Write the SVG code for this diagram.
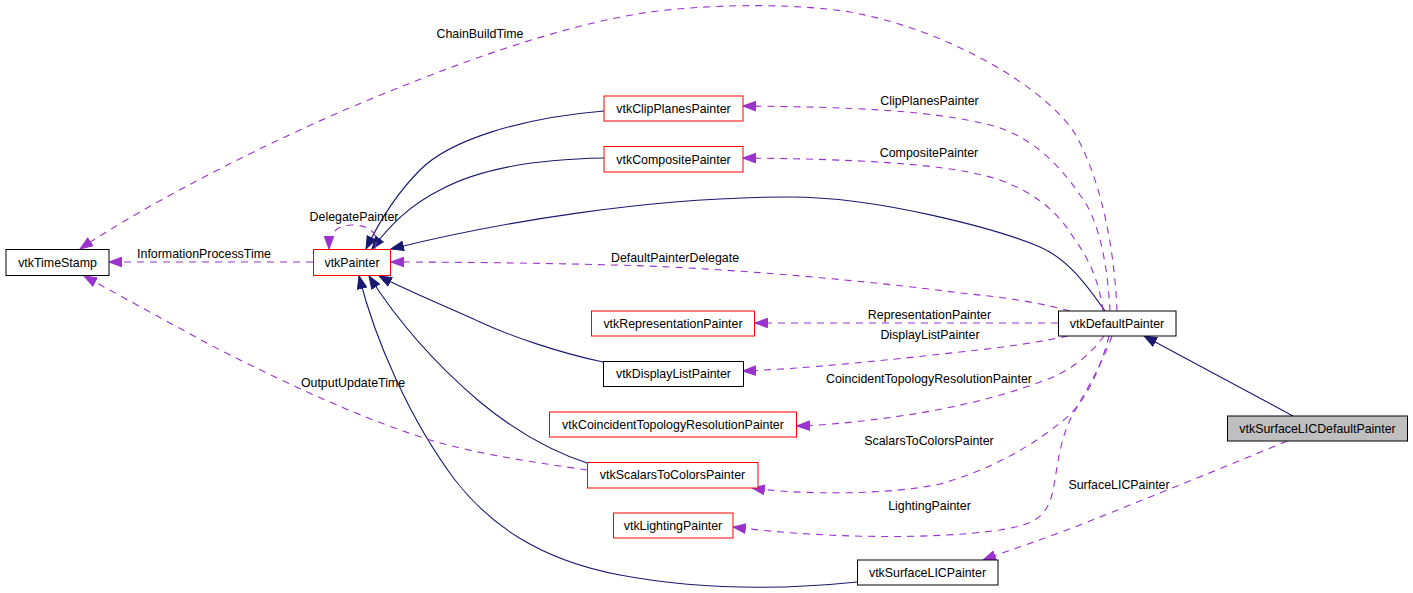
<svg xmlns="http://www.w3.org/2000/svg" width="1413" height="593" viewBox="0 0 1413 593">
<style>
.node rect{fill:#ffffff;stroke-width:1}
.blk rect{stroke:#000000}
.red rect{stroke:#ff0000}
.node text{font-family:"Liberation Sans",Arial,sans-serif;font-size:12.4px;text-anchor:middle;fill:#000}
.lbl{font-family:"Liberation Sans",Arial,sans-serif;font-size:12.4px;text-anchor:middle;fill:#000}
.inh{fill:none;stroke:#191970;stroke-width:1.1}
.use{fill:none;stroke:#9a32cd;stroke-width:1.1;stroke-dasharray:7,6}
</style>
<defs>
<marker id="an" markerUnits="userSpaceOnUse" markerWidth="14" markerHeight="11" viewBox="0 0 14 11" refX="13" refY="5.5" orient="auto">
<path d="M0.5,0.8 L13,5.5 L0.5,10.2 z" fill="#191970" stroke="#191970" stroke-dasharray="none"/>
</marker>
<marker id="ap" markerUnits="userSpaceOnUse" markerWidth="14" markerHeight="11" viewBox="0 0 14 11" refX="13" refY="5.5" orient="auto">
<path d="M0.5,0.8 L13,5.5 L0.5,10.2 z" fill="#9a32cd" stroke="#9a32cd" stroke-dasharray="none"/>
</marker>
</defs>
<rect x="0" y="0" width="1413" height="593" fill="#ffffff"/>
<g id="edges">
<!-- inheritance -->
<path class="inh" marker-end="url(#an)" d="M1105,311 C1090,290 1070,260 1040,247 C1000,230 880,197 790,197 C650,197 500,222 391,249"/>
<path class="inh" marker-end="url(#an)" d="M604,111 C520,118 450,140 420,170 C400,190 380,220 366,249"/>
<path class="inh" marker-end="url(#an)" d="M604,158 C540,159 480,168 440,190 C410,205 390,225 372,249"/>
<path class="inh" marker-end="url(#an)" d="M603,362 C560,353 510,336 480,322 C450,308 410,292 379,276"/>
<path class="inh" marker-end="url(#an)" d="M590,464 C555,453 520,435 480,402 C440,368 400,325 369,276"/>
<path class="inh" marker-end="url(#an)" d="M857,582 C780,590 700,590 620,575 C540,560 490,525 455,480 C410,420 375,340 359,276"/>
<path class="inh" marker-end="url(#an)" d="M1293,416 L1144,336"/>
<!-- usage -->
<path class="use" marker-end="url(#ap)" d="M375,249 C380,232 368,225 352,225 C336,225 329,234 329,249"/>
<path class="use" marker-end="url(#ap)" d="M313,262 L109,262"/>
<path class="use" marker-end="url(#ap)" d="M1117,311 C1115,260 1105,190 1077,137 C1050,90 950,30 850,12 C800,4 720,3 650,12 C560,25 450,65 340,112 C230,160 130,215 80,249"/>
<path class="use" marker-end="url(#ap)" d="M587,470 C540,463 480,455 430,440 C360,418 290,385 220,350 C160,318 110,290 84,276"/>
<path class="use" marker-end="url(#ap)" d="M1070,311 C1030,300 990,296 960,293 C880,282 720,267 613,265 C540,263 450,262 391,262"/>
<path class="use" marker-end="url(#ap)" d="M1110,311 C1108,270 1100,220 1080,195 C1060,165 1030,135 990,125 C930,110 850,107 743,106"/>
<path class="use" marker-end="url(#ap)" d="M1103,311 C1100,285 1090,260 1075,240 C1060,215 1040,195 1000,180 C950,163 850,159 743,158"/>
<path class="use" marker-end="url(#ap)" d="M1058,323 L755,323"/>
<path class="use" marker-end="url(#ap)" d="M1068,336 C1040,342 1000,348 960,352 C880,361 800,369 743,371"/>
<path class="use" marker-end="url(#ap)" d="M1104,336 C1090,355 1070,372 1040,382 C1000,397 960,406 920,413 C870,421 830,425 797,426"/>
<path class="use" marker-end="url(#ap)" d="M1109,336 C1100,370 1085,405 1060,423 C1030,447 990,470 940,484 C890,495 800,495 752,488"/>
<path class="use" marker-end="url(#ap)" d="M1112,336 C1100,370 1080,400 1070,420 C1058,445 1056,480 1052,495 C1045,520 1030,525 1000,530 C930,540 820,538 733,527"/>
<path class="use" marker-end="url(#ap)" d="M1287,441 C1230,465 1150,497 1090,521 C1050,537 1010,550 983,560"/>
<!-- labels -->
<text class="lbl" x="480" y="38">ChainBuildTime</text>
<text class="lbl" x="929.5" y="105">ClipPlanesPainter</text>
<text class="lbl" x="929" y="157">CompositePainter</text>
<text class="lbl" x="354" y="221">DelegatePainter</text>
<text class="lbl" x="204" y="258">InformationProcessTime</text>
<text class="lbl" x="675" y="262">DefaultPainterDelegate</text>
<text class="lbl" x="929.5" y="319">RepresentationPainter</text>
<text class="lbl" x="930" y="339">DisplayListPainter</text>
<text class="lbl" x="929" y="383">CoincidentTopologyResolutionPainter</text>
<text class="lbl" x="929" y="445">ScalarsToColorsPainter</text>
<text class="lbl" x="929.5" y="510">LightingPainter</text>
<text class="lbl" x="1119" y="489">SurfaceLICPainter</text>
<text class="lbl" x="353" y="387">OutputUpdateTime</text>
</g>
<g id="vtkTimeStamp" class="node blk"><rect x="6" y="249.5" width="103" height="26"/><text x="57.5" y="266.5">vtkTimeStamp</text></g>
<g id="vtkPainter" class="node red"><rect x="313.5" y="249.5" width="77" height="26"/><text x="352" y="266.5">vtkPainter</text></g>
<g id="vtkClipPlanesPainter" class="node red"><rect x="604" y="96" width="139" height="25"/><text x="673.5" y="112.5">vtkClipPlanesPainter</text></g>
<g id="vtkCompositePainter" class="node red"><rect x="604" y="146.5" width="139" height="25.5"/><text x="673.5" y="163.5">vtkCompositePainter</text></g>
<g id="vtkDefaultPainter" class="node blk"><rect x="1058.5" y="311" width="117.5" height="25"/><text x="1117" y="327.5">vtkDefaultPainter</text></g>
<g id="vtkSurfaceLICDefaultPainter" class="node blk"><rect x="1227.5" y="416" width="180" height="25" style="fill:#bfbfbf"/><text x="1317.5" y="432.5">vtkSurfaceLICDefaultPainter</text></g>
<g id="vtkRepresentationPainter" class="node red"><rect x="591.5" y="311" width="163" height="25"/><text x="673" y="327.5">vtkRepresentationPainter</text></g>
<g id="vtkDisplayListPainter" class="node blk"><rect x="603.5" y="361.5" width="140" height="25"/><text x="673.5" y="378">vtkDisplayListPainter</text></g>
<g id="vtkCoincidentTopologyResolutionPainter" class="node red"><rect x="549.5" y="412" width="247" height="25"/><text x="673" y="428.5">vtkCoincidentTopologyResolutionPainter</text></g>
<g id="vtkScalarsToColorsPainter" class="node red"><rect x="587.5" y="462.5" width="170.5" height="25.5"/><text x="672.5" y="479">vtkScalarsToColorsPainter</text></g>
<g id="vtkLightingPainter" class="node red"><rect x="613.5" y="513" width="119.5" height="25"/><text x="673" y="529.5">vtkLightingPainter</text></g>
<g id="vtkSurfaceLICPainter" class="node blk"><rect x="857.5" y="560" width="140.5" height="25"/><text x="927.5" y="576.5">vtkSurfaceLICPainter</text></g>
</svg>
